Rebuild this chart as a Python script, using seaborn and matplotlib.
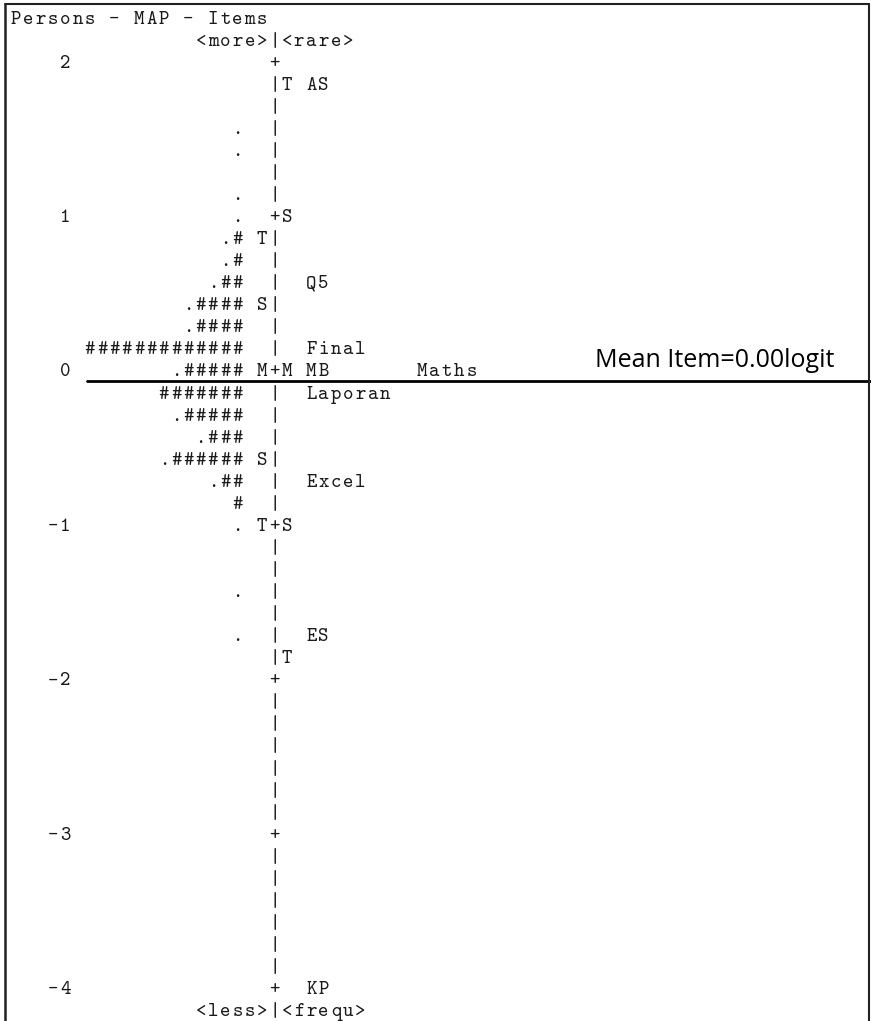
import matplotlib
matplotlib.use("Agg")
import matplotlib.pyplot as plt
from matplotlib.lines import Line2D
import numpy as np
import pandas as pd
import seaborn as sns

# ---------------- data ----------------
title = "Persons - MAP - Items"
top_labels = ("<more>", "<rare>")
bottom_labels = ("<less>", "<frequ>")

axis_ticks = [2, 1, 0, -1, -2, -3, -4]
rows_per_logit = 7

person_logits = [1.57, 1.43, 1.14, 1.00, 0.86, 0.71, 0.57, 0.43, 0.29, 0.14,
                 0.00, -0.14, -0.29, -0.43, -0.57, -0.71, -0.86, -1.00, -1.43, -1.71]
person_hist = [".", ".", ".", ".", ".#", ".#", ".##", ".####", ".####", "#############",
               ".#####", "#######", ".#####", ".###", ".######", ".##", "#", ".", ".", "."]

item_names = ["AS", "Q5", "Final", "MB", "Maths", "Laporan", "Excel", "ES", "KP"]
item_logits = [1.86, 0.57, 0.14, 0.00, 0.00, -0.14, -0.71, -1.71, -4.00]

person_marks = ["T", "S", "M", "S", "T"]
person_mark_logits = [0.86, 0.43, 0.00, -0.57, -1.00]
item_marks = ["T", "S", "M", "S", "T"]
item_mark_logits = [1.86, 1.00, 0.00, -1.00, -1.86]

mean_item = 0.00
mean_label = "Mean Item=0.00logit"

# ---------------- layout helpers ----------------
C = 21            # column of the axis bar
W = 72            # number of character columns
top_val = max(axis_ticks)


def row_of(v):
    return int(round((top_val - v) * rows_per_logit))


def val_of(k):
    return top_val - k / rows_per_logit


first_row, last_row = -2, row_of(min(axis_ticks)) + 1
grid = {k: [" "] * W for k in range(first_row, last_row + 1)}


def put(k, col, s):
    for i, ch in enumerate(s):
        grid[k][col + i] = ch


put(first_row, 0, title)
put(-1, C - len(top_labels[0]), top_labels[0] + "|" + top_labels[1])
put(last_row, C - len(bottom_labels[0]), bottom_labels[0] + "|" + bottom_labels[1])

for k in range(0, row_of(min(axis_ticks)) + 1):
    put(k, C, "+" if k % rows_per_logit == 0 else "|")
for t in axis_ticks:
    s = str(t)
    put(row_of(t), C - 17 - len(s) + 1, s)
for v, h in zip(person_logits, person_hist):
    put(row_of(v), C - 2 - len(h), h)
for v, m in zip(person_mark_logits, person_marks):
    put(row_of(v), C - 1, m)
for v, m in zip(item_mark_logits, item_marks):
    put(row_of(v), C + 1, m)
slots = {}
for v, n in zip(item_logits, item_names):
    k = row_of(v)
    j = slots.get(k, 0)
    put(k, C + 3 + 9 * j, n)
    slots[k] = j + 1

recs = []
for k, chars in grid.items():
    for col, ch in enumerate(chars):
        if ch != " ":
            recs.append({"col": col, "logit": val_of(k), "ch": ch})
chars_df = pd.DataFrame(recs)

# ---------------- drawing ----------------
sns.set_theme(style="white")
plt.rcParams["font.family"] = ["DejaVu Sans"]

fig = plt.figure(figsize=(8.71, 10.21), dpi=100)
ax = fig.add_axes([0, 0, 1, 1])
pitch = 12.3          # px per character column
x0 = 16.15            # px centre of column 0
ppl = 154.4           # px per logit
y0 = 370.6            # px of logit 0
ax.set_xlim(-x0 / pitch, (871 - x0) / pitch)
ax.set_ylim(-(1021 - y0) / ppl, y0 / ppl)
ax.axis("off")

base_off = 5.9 / ppl
for r in chars_df.itertuples():
    ax.text(r.col, r.logit - base_off, r.ch, family="cmtt10", fontsize=14.3,
            color="#1a1a1a", ha="center", va="baseline")

line_start = C - 15.2
line_df = pd.DataFrame({"x": [line_start, (871 - x0) / pitch + 1],
                        "y": [mean_item - 0.45 / rows_per_logit] * 2})
sns.lineplot(data=line_df, x="x", y="y", ax=ax, color="black", linewidth=2.0)
ax.set_xlim(-x0 / pitch, (871 - x0) / pitch)

ax.text((595 - x0) / pitch, mean_item + 0.023, mean_label, family="Open Sans",
        fontsize=18, color="black", ha="left", va="baseline")

# frame of the text box
fig.add_artist(Line2D([4.5 / 871, 4.5 / 871], [0, 1 - 4.5 / 1021], transform=fig.transFigure,
                      color="#222222", lw=1.8))
fig.add_artist(Line2D([4.5 / 871, 868.5 / 871], [1 - 4.5 / 1021] * 2, transform=fig.transFigure,
                      color="#222222", lw=1.5))
fig.add_artist(Line2D([868.5 / 871, 868.5 / 871], [0, 1 - 4.5 / 1021], transform=fig.transFigure,
                      color="#222222", lw=1.5))

fig.savefig("out.png", dpi=100, facecolor="white")
